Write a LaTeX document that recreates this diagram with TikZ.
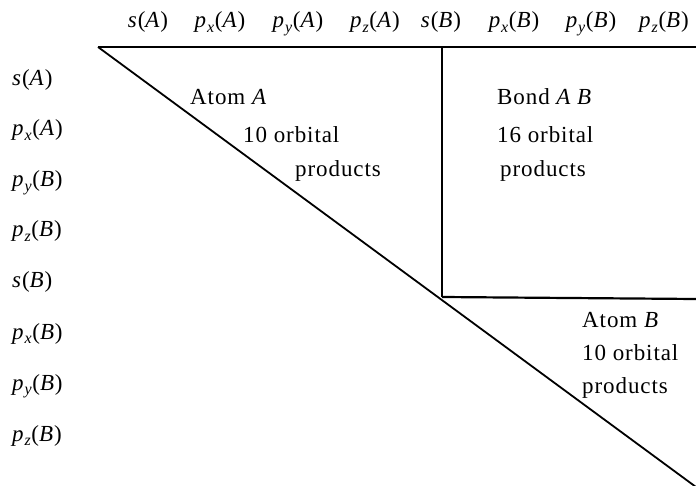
\documentclass[tikz,border=0pt]{standalone}
\usepackage{fontspec}
\setmainfont{Liberation Serif}[LetterSpace=4]
% orbital label: \orbl{p}{x}{A} -> p_x(A) in italics
\newcommand{\orbl}[3]{\textit{#1}\raisebox{-0.2em}{\fontsize{16}{16}\selectfont\textit{#2}}(\textit{#3})}
\newcommand{\orbs}[1]{\textit{s}(\textit{#1})}
\begin{document}
\begin{tikzpicture}[x=1pt,y=-1pt,
  lab/.style={inner sep=0pt,anchor=base,font=\fontsize{23}{26}\selectfont},
  rowlab/.style={inner sep=0pt,anchor=base west,font=\fontsize{23}{26}\selectfont},
  blocktxt/.style={inner sep=0pt,anchor=base west,font=\fontsize{23}{26}\selectfont},
  rule/.style={line width=2.8pt},
  edge/.style={line width=2.2pt},
  diag/.style={line width=1.8pt}]
\useasboundingbox (0,0) rectangle (696,486);

% column headings
\node[lab] (c1) at (148,28) {\orbs{A}};
\node[lab] (c2) at (220,28) {\orbl{p}{x}{A}};
\node[lab] (c3) at (298,28) {\orbl{p}{y}{A}};
\node[lab] (c4) at (375,28) {\orbl{p}{z}{A}};
\node[lab] (c5) at (441,28) {\orbs{B}};
\node[lab] (c6) at (514,28) {\orbl{p}{x}{B}};
\node[lab] (c7) at (591,28) {\orbl{p}{y}{B}};
\node[lab] (c8) at (664,28) {\orbl{p}{z}{B}};

% row headings
\node[rowlab] (r1) at (12,86)  {\orbs{A}};
\node[rowlab] (r2) at (12,136) {\orbl{p}{x}{A}};
\node[rowlab] (r3) at (12,187) {\orbl{p}{y}{B}};
\node[rowlab] (r4) at (12,237) {\orbl{p}{z}{B}};
\node[rowlab] (r5) at (12,288) {\orbs{B}};
\node[rowlab] (r6) at (12,339) {\orbl{p}{x}{B}};
\node[rowlab] (r7) at (12,390) {\orbl{p}{y}{B}};
\node[rowlab] (r8) at (12,441) {\orbl{p}{z}{B}};

% frame of the triangular table
\coordinate (tl) at (98,47);
\coordinate (tr) at (696,47);
\coordinate (mt) at (442,47);
\coordinate (mc) at (442,297);
\coordinate (mr) at (696,299);
\coordinate (br) at (696,487);

\draw[rule] (tl) -- (tr);
\draw[edge] (mt) -- (mc);
\draw[edge] (mc) -- (mr);
\draw[diag] (tl) -- (br);

% block captions
\node[blocktxt] (a1) at (190,105) {Atom \textit{A}};
\node[blocktxt] (a2) at (243,143) {10 orbital};
\node[blocktxt] (a3) at (295,177) {products};

\node[blocktxt] (b1) at (497,105) {Bond \textit{A B}};
\node[blocktxt] (b2) at (497,143) {16 orbital};
\node[blocktxt] (b3) at (500,177) {products};

\node[blocktxt] (d1) at (582,327) {Atom \textit{B}};
\node[blocktxt] (d2) at (582,360) {10 orbital};
\node[blocktxt] (d3) at (582,393) {products};
\end{tikzpicture}
\end{document}
